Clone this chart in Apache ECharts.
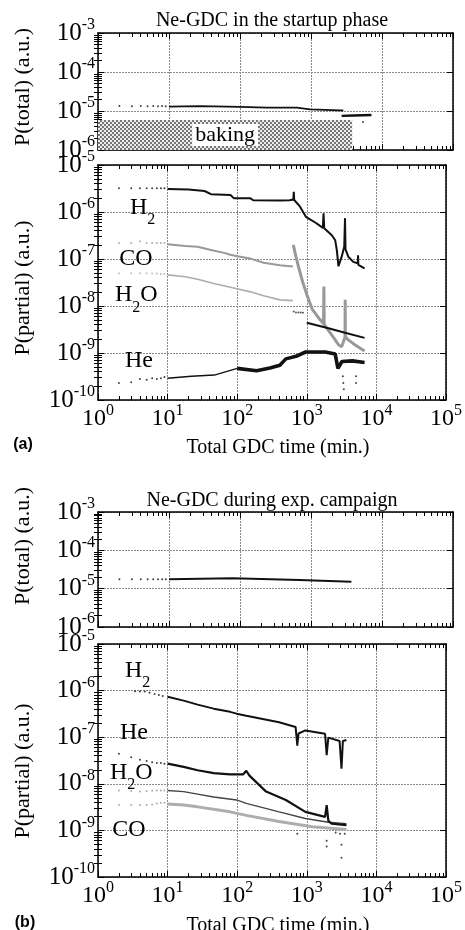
<!DOCTYPE html>
<html><head><meta charset="utf-8">
<script src="https://cdn.jsdelivr.net/npm/echarts@6/dist/echarts.min.js"></script>
<style>html,body{margin:0;padding:0;background:#fff}#c{width:465px;height:930px}</style>
</head><body><div id="c"></div>
<script>
// ---------------- DATA ----------------
// tick label exponents (labels are 10^e)
const xTickExponents = [0, 1, 2, 3, 4, 5];
const yTotalExponents = [-6, -5, -4, -3];
const yPartialExponents = [-10, -9, -8, -7, -6, -5];

// (a) Ne-GDC in the startup phase — total pressure
const aTotalSparseX = [2, 3, 4, 5, 6, 7, 8, 9];
const aTotalSparseY = [1.34e-5, 1.33e-5, 1.34e-5, 1.33e-5, 1.34e-5, 1.33e-5, 1.34e-5, 1.33e-5];
const aTotalEarly = [[10, 1.3e-5], [27, 1.34e-5], [100, 1.27e-5], [240, 1.22e-5], [630, 1.22e-5], [970, 1.1e-5], [2560, 1.04e-5], [2850, 1.03e-5]];
const aTotalLate = [[2700, 7.5e-6], [4000, 7.7e-6], [5400, 7.8e-6], [7100, 7.9e-6]];
const aTotalOutlier = [[5400, 5.2e-6]];
const bakingEndX = 3800;
const bakingTopY = 5.9e-6;

// (a) partial pressures
const aSparseX = [2, 3, 4, 5, 6, 7, 8, 9];
const aH2Sparse = [3.2e-6, 3.2e-6, 3.2e-6, 3.2e-6, 3.2e-6, 3.2e-6, 3.2e-6, 3.2e-6];
const aCOSparse = [2.2e-7, 2.2e-7, 2.4e-7, 2.2e-7, 2.2e-7, 2.2e-7, 2.2e-7, 2.2e-7];
const aH2OSparse = [5.0e-8, 5.0e-8, 5.0e-8, 5.0e-8, 4.9e-8, 4.9e-8, 4.8e-8, 4.8e-8];
const aHeSparse = [2.3e-10, 2.4e-10, 2.8e-10, 2.7e-10, 2.9e-10, 2.8e-10, 2.9e-10, 3.1e-10];
const aH2 = [[10, 3.1e-6], [20, 3.0e-6], [34, 2.8e-6], [42, 2.4e-6], [80, 2.3e-6], [90, 1.95e-6], [155, 1.95e-6], [170, 1.78e-6], [400, 1.75e-6], [565, 1.78e-6], [640, 1.85e-6], [650, 2.7e-6], [660, 1.8e-6], [700, 1.75e-6], [800, 1.3e-6], [970, 7.9e-7], [1340, 5.9e-7], [1700, 4.6e-7], [1740, 9.4e-7], [1780, 4.5e-7], [2290, 3.2e-7], [2560, 2.5e-7], [2700, 1.55e-7], [2850, 7.0e-8], [3170, 1.12e-7], [3450, 1.83e-7], [3540, 7.4e-7], [3600, 1.6e-7], [3950, 1.12e-7], [4650, 8.7e-8], [5400, 8.1e-8], [5450, 1.2e-7], [5500, 7.5e-8], [6760, 6.3e-8]];
const aCO = [[10, 2.05e-7], [18, 1.9e-7], [27, 1.83e-7], [42, 1.55e-7], [65, 1.35e-7], [80, 1.23e-7], [100, 1.15e-7], [155, 1.02e-7], [240, 8.3e-8], [410, 7.4e-8], [630, 6.9e-8]];
const aCODrop = [[640, 2.0e-7], [700, 1.1e-7], [780, 5.9e-8], [870, 3.3e-8], [1020, 1.6e-8], [1200, 8.5e-9], [1490, 5.5e-9], [1740, 4.2e-9], [1760, 2.6e-8], [1780, 4.0e-9], [2290, 2.4e-9], [2850, 1.5e-9], [3170, 1.35e-9], [3540, 2.2e-9], [3560, 1.35e-8], [3580, 2.2e-9], [3950, 1.9e-9], [4900, 1.5e-9], [6760, 1.1e-9]];
const aH2O = [[10, 4.6e-8], [18, 4.2e-8], [27, 3.7e-8], [46, 3.0e-8], [80, 2.5e-8], [155, 2.0e-8], [240, 1.65e-8], [410, 1.35e-8], [630, 1.3e-8]];
const aH2OTransition = [[650, 7.6e-9], [700, 7.3e-9], [760, 7.3e-9], [820, 7.3e-9], [880, 7.2e-9]];
const aH2OLate = [[1000, 4.4e-9], [2050, 3.35e-9], [3540, 2.7e-9], [6760, 2.1e-9]];
const aHeEarly = [[10, 2.9e-10], [22, 3.2e-10], [47, 3.4e-10], [100, 4.7e-10]];
const aHeLate = [[100, 4.7e-10], [190, 4.2e-10], [295, 4.8e-10], [410, 5.5e-10], [500, 7.5e-10], [700, 8.5e-10], [960, 1.05e-9], [1840, 1.05e-9], [2560, 9.5e-10], [2700, 9.0e-10], [2800, 4.7e-10], [3200, 6.6e-10], [4500, 6.8e-10], [6760, 6.3e-10]];
const aHeDips = [[3300, 3.2e-10], [3350, 2.3e-10], [3400, 1.7e-10], [5100, 3.2e-10], [5100, 2.3e-10]];

// (b) Ne-GDC during exp. campaign — total pressure
const bTotalSparseX = [2, 3, 4, 5, 6, 7, 8, 9];
const bTotalSparseY = [1.76e-5, 1.76e-5, 1.76e-5, 1.76e-5, 1.76e-5, 1.77e-5, 1.77e-5, 1.77e-5];
const bTotal = [[10, 1.76e-5], [79, 1.86e-5], [690, 1.69e-5], [730, 1.52e-5], [3710, 1.52e-5]];

// (b) partial pressures
const bH2SparseX = [3.4, 4.0, 4.7, 5.5, 6.5, 7.5, 8.5];
const bH2Sparse = [9.7e-7, 9.6e-7, 9.6e-7, 9.0e-7, 8.5e-7, 8.0e-7, 7.7e-7];
const bSparseX = [2, 3, 4, 5, 6, 7, 8, 9];
const bHeSparse = [4.4e-8, 3.7e-8, 3.3e-8, 3.1e-8, 2.9e-8, 2.8e-8, 2.8e-8, 2.7e-8];
const bH2OSparse = [7.2e-9, 7.0e-9, 6.8e-9, 7.0e-9, 7.1e-9, 7.2e-9, 7.2e-9, 7.2e-9];
const bCOSparse = [3.5e-9, 3.5e-9, 3.5e-9, 3.5e-9, 3.6e-9, 3.8e-9, 3.9e-9, 3.9e-9];
const bH2 = [[10, 7.4e-7], [17, 6.1e-7], [27, 5.0e-7], [46, 4.1e-7], [79, 3.5e-7], [98, 3.2e-7], [135, 2.9e-7], [400, 2.1e-7], [690, 1.66e-7], [720, 1.6e-7], [730, 6.6e-8], [760, 1.2e-7], [955, 1.4e-7], [1830, 1.18e-7], [1930, 4.1e-8], [2040, 9.8e-8], [2960, 8.3e-8], [3150, 2.1e-8], [3300, 8.3e-8], [3710, 8.7e-8]];
const bHe = [[10, 2.7e-8], [17, 2.3e-8], [27, 1.95e-8], [46, 1.7e-8], [79, 1.6e-8], [122, 1.6e-8], [135, 1.9e-8], [150, 1.5e-8], [260, 6.8e-9], [500, 4.5e-9], [955, 2.5e-9], [1830, 1.95e-9], [1930, 3.5e-9], [2040, 1.6e-9], [2270, 1.4e-9], [3710, 1.3e-9]];
const bH2O = [[10, 7.2e-9], [17, 6.8e-9], [27, 6.0e-9], [46, 5.2e-9], [98, 4.5e-9], [135, 3.8e-9], [400, 2.5e-9], [955, 1.8e-9], [2040, 1.5e-9], [3710, 1.4e-9]];
const bCO = [[10, 3.7e-9], [17, 3.5e-9], [27, 3.2e-9], [79, 2.5e-9], [135, 2.1e-9], [400, 1.55e-9], [1190, 1.2e-9], [3710, 1.05e-9]];
const bDips = [[730, 8.5e-10], [1930, 6e-10], [1930, 4.5e-10], [2600, 9e-10], [3000, 8.5e-10], [3150, 4.9e-10], [3150, 2.6e-10], [3500, 8.5e-10]];

// ---------------- CHART ----------------
const SERIF = '"Liberation Serif","Times New Roman",serif';
const BLACK = '#111';
const chart = echarts.init(document.getElementById('c'), null, {renderer: 'canvas', width: 465, height: 930});

const grids = [
  {left: 98, top: 33, width: 355, height: 117},
  {left: 98, top: 165, width: 355, height: 235},
  {left: 98, top: 512, width: 355, height: 115},
  {left: 98, top: 644, width: 355, height: 233}
];
const yExps = [yTotalExponents, yPartialExponents, yTotalExponents, yPartialExponents];
const showXLabels = [false, true, false, true];

function minorLogs(e0, e1) {
  const out = [];
  for (let e = e0; e < e1; e++) for (let k = 2; k <= 9; k++) out.push(e + Math.log10(k));
  return out;
}
function supFmt(v) {
  const e = Math.round(Math.log10(v));
  return '{b|10}{s|' + e + '}';
}
const xRich = {
  b: {fontFamily: SERIF, fontSize: 24, lineHeight: 24, color: '#000', verticalAlign: 'middle'},
  s: {fontFamily: SERIF, fontSize: 16, lineHeight: 16, padding: [0, 0, 16, 0], color: '#000', verticalAlign: 'middle'}
};
const yRich = {
  b: {fontFamily: SERIF, fontSize: 25, lineHeight: 25, color: '#000', verticalAlign: 'middle'},
  s: {fontFamily: SERIF, fontSize: 16, lineHeight: 16, padding: [0, 0, 16, 0], color: '#000', verticalAlign: 'middle'}
};
const axisLineStyle = {show: true, onZero: false, lineStyle: {color: '#000', width: 1.5}};
const splitStyle = {show: true, lineStyle: {color: '#8a8a8a', type: [2, 1], width: 1}};

const xAxes = [], yAxes = [];
grids.forEach((g, gi) => {
  const xMin = Math.pow(10, xTickExponents[0]), xMax = Math.pow(10, xTickExponents[xTickExponents.length - 1]);
  const ye = yExps[gi];
  const yMin = Math.pow(10, ye[0]), yMax = Math.pow(10, ye[ye.length - 1]);
  const xm = minorLogs(xTickExponents[0], xTickExponents[xTickExponents.length - 1]);
  const ym = minorLogs(ye[0], ye[ye.length - 1]);
  // x axes
  xAxes.push({type: 'log', logBase: 10, gridIndex: gi, min: xMin, max: xMax, position: 'bottom',
    axisLine: axisLineStyle, axisTick: {show: true, inside: true, length: 6, lineStyle: {color: '#000'}},
    axisLabel: {show: showXLabels[gi], margin: 7, formatter: supFmt, rich: xRich, showMinLabel: true, showMaxLabel: true},
    splitLine: splitStyle});
  xAxes.push({type: 'log', logBase: 10, gridIndex: gi, min: xMin, max: xMax, position: 'top',
    axisLine: axisLineStyle, axisTick: {show: true, inside: true, length: 6, lineStyle: {color: '#000'}},
    axisLabel: {show: false}, splitLine: {show: false}});
  xAxes.push({type: 'value', gridIndex: gi, min: xTickExponents[0], max: xTickExponents[xTickExponents.length - 1], position: 'bottom',
    axisLine: {show: false}, axisTick: {show: true, inside: true, length: 4, customValues: xm, lineStyle: {color: '#000'}},
    axisLabel: {show: false}, splitLine: {show: false}});
  xAxes.push({type: 'value', gridIndex: gi, min: xTickExponents[0], max: xTickExponents[xTickExponents.length - 1], position: 'top',
    axisLine: {show: false}, axisTick: {show: true, inside: true, length: 4, customValues: xm, lineStyle: {color: '#000'}},
    axisLabel: {show: false}, splitLine: {show: false}});
  // y axes
  yAxes.push({type: 'log', logBase: 10, gridIndex: gi, min: yMin, max: yMax, position: 'left',
    axisLine: axisLineStyle, axisTick: {show: true, inside: true, length: 6, lineStyle: {color: '#000'}},
    axisLabel: {show: true, margin: 3, formatter: supFmt, rich: yRich, showMinLabel: true, showMaxLabel: true},
    splitLine: splitStyle});
  yAxes.push({type: 'log', logBase: 10, gridIndex: gi, min: yMin, max: yMax, position: 'right',
    axisLine: axisLineStyle, axisTick: {show: true, inside: true, length: 6, lineStyle: {color: '#000'}},
    axisLabel: {show: false}, splitLine: {show: false}});
  yAxes.push({type: 'value', gridIndex: gi, min: ye[0], max: ye[ye.length - 1], position: 'left',
    axisLine: {show: false}, axisTick: {show: true, inside: true, length: 4, customValues: ym, lineStyle: {color: '#000'}},
    axisLabel: {show: false}, splitLine: {show: false}});
  yAxes.push({type: 'value', gridIndex: gi, min: ye[0], max: ye[ye.length - 1], position: 'right',
    axisLine: {show: false}, axisTick: {show: true, inside: true, length: 4, customValues: ym, lineStyle: {color: '#000'}},
    axisLabel: {show: false}, splitLine: {show: false}});
});

// hatch pattern for baking
const pc = document.createElement('canvas');
pc.width = 4; pc.height = 4;
const pctx = pc.getContext('2d');
pctx.fillStyle = '#ececec'; pctx.fillRect(0, 0, 4, 4);
pctx.fillStyle = '#777'; pctx.fillRect(0, 0, 2, 2); pctx.fillRect(2, 2, 2, 2);

function zip(xs, ys) { return xs.map((x, i) => [x, ys[i]]); }
function line(gi, data, color, width, z) {
  return {type: 'line', xAxisIndex: 4 * gi, yAxisIndex: 4 * gi, data: data, symbol: 'none',
    lineStyle: {color: color, width: width}, clip: true, z: z || 3, silent: true};
}
function dots(gi, data, color, size) {
  return {type: 'scatter', xAxisIndex: 4 * gi, yAxisIndex: 4 * gi, data: data, symbol: 'circle',
    symbolSize: size || 2.4, itemStyle: {color: color}, clip: true, z: 3, silent: true};
}
const GRAY = '#999';
const LGRAY = '#adadad';

const series = [
  // (a) total
  Object.assign(line(0, aTotalEarly, BLACK, 1.8), {
    markArea: {silent: true, z: 1,
      itemStyle: {color: {image: pc, repeat: 'repeat'}},
      label: {show: true, position: 'inside', formatter: 'baking', color: '#000', fontFamily: SERIF, fontSize: 22,
        backgroundColor: '#fff', padding: [0, 3, 0, 3]},
      data: [[{xAxis: Math.pow(10, xTickExponents[0]), yAxis: Math.pow(10, yTotalExponents[0])}, {xAxis: bakingEndX, yAxis: bakingTopY}]]}
  }),
  line(0, aTotalLate, BLACK, 2.4),
  dots(0, zip(aTotalSparseX, aTotalSparseY), BLACK, 2),
  dots(0, aTotalOutlier, BLACK, 2),
  // (a) partial
  dots(1, zip(aSparseX, aH2Sparse), BLACK, 2),
  dots(1, zip(aSparseX, aCOSparse), GRAY, 2),
  dots(1, zip(aSparseX, aH2OSparse), LGRAY, 2),
  dots(1, zip(aSparseX, aHeSparse), BLACK, 2),
  line(1, aH2, BLACK, 2),
  line(1, aCO, GRAY, 2),
  line(1, aCODrop, GRAY, 3),
  line(1, aH2O, LGRAY, 1.6),
  dots(1, aH2OTransition, '#333', 2),
  line(1, aH2OLate, BLACK, 2),
  line(1, aHeEarly, BLACK, 1.3),
  line(1, aHeLate, BLACK, 3.6),
  dots(1, aHeDips, BLACK, 2),
  // (b) total
  line(2, bTotal, BLACK, 2),
  dots(2, zip(bTotalSparseX, bTotalSparseY), BLACK, 2),
  // (b) partial
  dots(3, zip(bH2SparseX, bH2Sparse), BLACK, 2),
  dots(3, zip(bSparseX, bHeSparse), BLACK, 2),
  dots(3, zip(bSparseX, bH2OSparse), GRAY, 2),
  dots(3, zip(bSparseX, bCOSparse), GRAY, 2),
  line(3, bCO, LGRAY, 3),
  line(3, bH2O, '#444', 1.4),
  line(3, bHe, BLACK, 2.2),
  line(3, bH2, BLACK, 2),
  dots(3, bDips, BLACK, 2)
];

function txt(x, y, text, size, opts) {
  opts = opts || {};
  return {type: 'text', x: x, y: y, rotation: opts.rotation || 0, silent: true, z: 50,
    style: Object.assign({text: text, fill: '#000',
      font: (opts.weight || 'normal') + ' ' + size + 'px ' + (opts.family || SERIF),
      align: opts.align || 'center', verticalAlign: 'middle',
      textAlign: opts.align || 'center', textVerticalAlign: 'middle'}, opts.style || {})};
}
const subRich = {
  b: {fontFamily: SERIF, fontSize: 24, lineHeight: 24, fill: '#000', verticalAlign: 'middle'},
  s: {fontFamily: SERIF, fontSize: 16, lineHeight: 16, padding: [25, 0, 0, 0], fill: '#000', verticalAlign: 'middle'}
};
function species(x, y, text, align) {
  return {type: 'text', x: x, y: y, silent: true, z: 50,
    style: {text: text, rich: subRich, fill: '#000', font: '24px ' + SERIF,
      align: align, verticalAlign: 'middle', textAlign: align, textVerticalAlign: 'middle'}};
}

const graphic = [
  txt(272, 21, 'Ne-GDC in the startup phase', 20),
  txt(272, 501, 'Ne-GDC during exp. campaign', 20),
  txt(23, 87, 'P(total) (a.u.)', 22, {rotation: Math.PI / 2}),
  txt(23, 288, 'P(partial) (a.u.)', 22, {rotation: Math.PI / 2}),
  txt(23, 546, 'P(total) (a.u.)', 22, {rotation: Math.PI / 2}),
  txt(23, 771, 'P(partial) (a.u.)', 22, {rotation: Math.PI / 2}),
  txt(278, 448, 'Total GDC time (min.)', 20),
  txt(278, 926, 'Total GDC time (min.)', 20),
  txt(23, 445, '(a)', 16, {weight: 'bold', family: '"Liberation Sans",Arial,sans-serif'}),
  txt(25, 923, '(b)', 16, {weight: 'bold', family: '"Liberation Sans",Arial,sans-serif'}),
  species(130, 207.5, '{b|H}{s|2}', 'left'),
  species(136, 258.5, '{b|CO}', 'center'),
  species(115, 295, '{b|H}{s|2}{b|O}', 'left'),
  species(139, 360.5, '{b|He}', 'center'),
  species(125, 670.5, '{b|H}{s|2}', 'left'),
  species(134, 732.5, '{b|He}', 'center'),
  species(110, 772.5, '{b|H}{s|2}{b|O}', 'left'),
  species(129, 829.5, '{b|CO}', 'center')
];

chart.setOption({
  animation: false,
  backgroundColor: '#fff',
  grid: grids.map(g => Object.assign({containLabel: false}, g)),
  xAxis: xAxes,
  yAxis: yAxes,
  series: series,
  graphic: graphic
});
</script>
</body></html>
